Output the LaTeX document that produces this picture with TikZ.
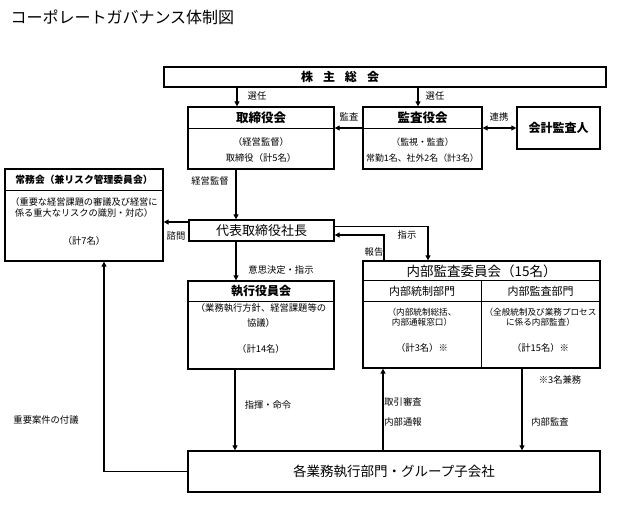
\documentclass[tikz,border=0pt]{standalone}
\usepackage{fontspec}
\setmainfont{Noto Sans CJK JP}
\usetikzlibrary{arrows.meta}

\begin{document}
\begin{tikzpicture}[x=1pt, y=-1pt, >={Triangle[length=5pt,width=5pt]},
    box/.style={draw, line width=1.3pt, inner sep=0pt},
    arr/.style={->, line width=1.1pt},
    head/.style={font=\fontsize{12.5}{13}\selectfont\bfseries, inner sep=0pt},
    lbl/.style={font=\fontsize{9.3}{10}\selectfont, inner sep=0pt},
    txt/.style={font=\fontsize{9.3}{16}\selectfont, align=center, inner sep=0pt}]

  \useasboundingbox (0,0) rectangle (639,524);
  \node[anchor=west, font=\fontsize{16}{16}\selectfont] (title) at (7,17) {コーポレートガバナンス体制図};

  \node[box, minimum width=442pt, minimum height=20pt] (kabu) at (385,77) {};
  \node[head, font=\fontsize{12}{12}\selectfont\bfseries] (kabut) at (340,77) {株\hspace{10pt}主\hspace{10pt}総\hspace{10pt}会};

  \node[box, minimum width=146pt, minimum height=62pt] (tori) at (261,138) {};
  \draw[line width=1pt] ([yshift=-22pt]tori.north west) -- ([yshift=-22pt]tori.north east);
  \node[head] (torih) at (261,118) {取締役会};
  \node[txt] (torit) at (261,150) {（経営監督）\\取締役（計5名）};

  \node[box, minimum width=119pt, minimum height=62pt] (kansa) at (422.5,138) {};
  \draw[line width=1pt] ([yshift=-22pt]kansa.north west) -- ([yshift=-22pt]kansa.north east);
  \node[head] (kansah) at (422.5,118) {監査役会};
  \node[txt, font=\fontsize{8.9}{16}\selectfont] (kansat) at (422.5,150) {（監視・監査）\\常勤1名、社外2名（計3名）};

  \node[box, minimum width=83pt, minimum height=42pt, font=\fontsize{12}{12}\selectfont\bfseries] (kaikei) at (558.5,128) {会計監査人};

  \node[box, minimum width=158pt, minimum height=92pt] (jomu) at (84,215) {};
  \draw[line width=1pt] ([yshift=-22pt]jomu.north west) -- ([yshift=-22pt]jomu.north east);
  \node[head, font=\fontsize{9.8}{10}\selectfont\bfseries] (jomuh) at (84,180) {常務会（兼リスク管理委員会）};
  \node[txt, font=\fontsize{9.2}{11.5}\selectfont] (jomut) at (84,207.5) {（重要な経営課題の審議及び経営に\\係る重大なリスクの識別・対応）};
  \node[txt] (jomun) at (84,241) {（計7名）};

  \node[box, minimum width=145pt, minimum height=21pt, font=\fontsize{13}{13}\selectfont] (shacho) at (261.5,230.5) {代表取締役社長};

  \node[box, minimum width=146pt, minimum height=88pt] (shikko) at (261,325) {};
  \draw[line width=1pt] ([yshift=-21pt]shikko.north west) -- ([yshift=-21pt]shikko.north east);
  \node[head, font=\fontsize{12}{12}\selectfont\bfseries] (shikkoh) at (261,291.5) {執行役員会};
  \node[txt, font=\fontsize{9.3}{15}\selectfont] (shikkot) at (261,315.5) {（業務執行方針、経営課題等の\\協議）};
  \node[txt] (shikkon) at (261,349) {（計14名）};

  \node[box, minimum width=237pt, minimum height=107pt] (naibu) at (481.5,314.5) {};
  \draw[line width=1pt] ([yshift=-20pt]naibu.north west) -- ([yshift=-20pt]naibu.north east);
  \draw[line width=1pt] ([yshift=-41pt]naibu.north west) -- ([yshift=-41pt]naibu.north east);
  \draw[line width=1pt] ([yshift=-20pt]naibu.north) -- (naibu.south);
  \node[font=\fontsize{13.5}{14}\selectfont, inner sep=0pt] (naibuh) at (481.5,271) {内部監査委員会（15名）};
  \node[font=\fontsize{11}{11}\selectfont, inner sep=0pt] (toseih) at (422,291.5) {内部統制部門};
  \node[font=\fontsize{11}{11}\selectfont, inner sep=0pt] (kansabh) at (540.5,291.5) {内部監査部門};
  \node[txt, font=\fontsize{8.6}{10.5}\selectfont] (toseit) at (422,317) {（内部統制総括、\\内部通報窓口）};
  \node[txt, font=\fontsize{8.6}{10.5}\selectfont] (kansabt) at (540.5,317) {（全般統制及び業務プロセス\\に係る内部監査）};
  \node[txt] (tosein) at (422,348) {（計3名）※};
  \node[txt] (kansabn) at (540.5,348) {（計15名）※};

  \node[box, minimum width=412pt, minimum height=41pt, font=\fontsize{13.5}{14}\selectfont] (gyomu) at (394,471.5) {各業務執行部門・グループ子会社};

  \coordinate (c1) at ([xshift=-24pt]tori.north);
  \coordinate (c2) at ([xshift=-4.5pt]kansa.north);
  \coordinate (c3) at ([xshift=-25pt]tori.south);
  \coordinate (c4) at ([yshift=8.5pt]shacho.west);
  \coordinate (c5) at ([xshift=-25.5pt]shacho.south);
  \coordinate (c6) at ([xshift=-26pt]shikko.south);
  \coordinate (c7) at ([xshift=-98.5pt]naibu.south);
  \coordinate (c8) at ([xshift=40.5pt]naibu.south);

  \draw[arr] (c1 |- kabu.south) -- (c1);
  \draw[arr] (c2 |- kabu.south) -- (c2);
  \draw[arr] ([yshift=10pt]kansa.west) -- ([yshift=10pt]tori.east);
  \draw[arr, <->] ([yshift=10pt]kansa.east) -- (kaikei.west);
  \draw[arr] (c3) -- (c3 |- shacho.north);
  \draw[arr] (c4) -- (c4 -| jomu.east);
  \draw[arr] ([yshift=4pt]shacho.east) -| ([xshift=-53.5pt]naibu.north);
  \draw[arr] ([xshift=-97.5pt]naibu.north) |- ([yshift=-4.5pt]shacho.east);
  \draw[arr] (c5) -- (c5 |- shikko.north);
  \draw[arr] (c6) -- (c6 |- gyomu.north);
  \draw[arr] (c7 |- gyomu.north) -- (c7);
  \draw[arr] (c8) -- (c8 |- gyomu.north);
  \draw[arr] (gyomu.west) -| ([xshift=20pt]jomu.south);

  \node[lbl] (l1) at (257,96) {選任};
  \node[lbl] (l2) at (435,96) {選任};
  \node[lbl] (l3) at (349,117) {監査};
  \node[lbl] (l4) at (499,117) {連携};
  \node[lbl] (l5) at (210,181) {経営監督};
  \node[lbl] (l6) at (176,236) {諮問};
  \node[lbl] (l7) at (407,235) {指示};
  \node[lbl] (l8) at (374,252) {報告};
  \node[lbl] (l9) at (281,270) {意思決定・指示};
  \node[lbl] (l10) at (268,405) {指揮・命令};
  \node[lbl] (l11) at (403,402) {取引審査};
  \node[lbl] (l12) at (403,422) {内部通報};
  \node[lbl] (l13) at (550,422) {内部監査};
  \node[lbl] (l14) at (560,380) {※3名兼務};
  \node[lbl] (l15) at (46,420) {重要案件の付議};
\end{tikzpicture}
\end{document}
